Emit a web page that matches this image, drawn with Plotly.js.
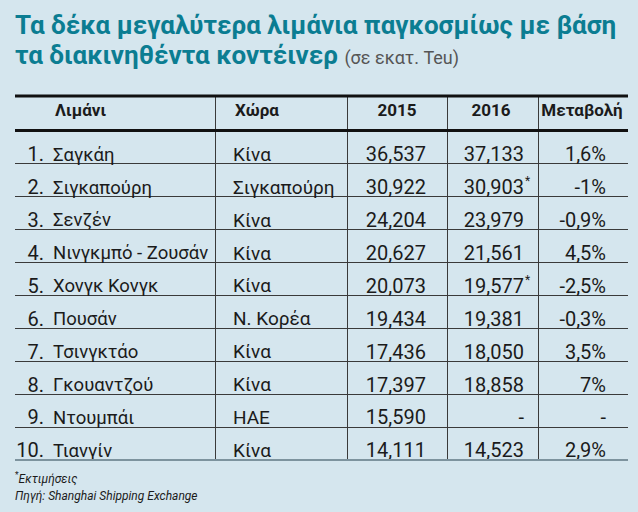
<!DOCTYPE html>
<html>
<head>
<meta charset="utf-8">
<script src="https://cdn.plot.ly/plotly-3.0.1.min.js"></script>
<style>
html,body{margin:0;padding:0;background:#d5e6ee;}
#chart{width:638px;height:512px;}
</style>
</head>
<body>
<div id="chart"></div>
<script>
// ---------- DATA ----------
const headers = ['Λιμάνι', 'Χώρα', '2015', '2016', 'Μεταβολή'];
const ports = ['Σαγκάη', 'Σιγκαπούρη', 'Σενζέν', 'Νινγκμπό - Ζουσάν', 'Χονγκ Κονγκ',
               'Πουσάν', 'Τσινγκτάο', 'Γκουαντζού', 'Ντουμπάι', 'Τιανγίν'];
const countries = ['Κίνα', 'Σιγκαπούρη', 'Κίνα', 'Κίνα', 'Κίνα',
                   'Ν. Κορέα', 'Κίνα', 'Κίνα', 'ΗΑΕ', 'Κίνα'];
const teu2015 = [36.537, 30.922, 24.204, 20.627, 20.073, 19.434, 17.436, 17.397, 15.590, 14.111];
const teu2016 = [37.133, 30.903, 23.979, 21.561, 19.577, 19.381, 18.050, 18.858, null, 14.523];
const estimated2016 = [false, true, false, false, true, false, false, false, false, false];
const changePct = [1.6, -1, -0.9, 4.5, -2.5, -0.3, 3.5, 7, null, 2.9];
const titleLine1 = 'Τα δέκα μεγαλύτερα λιμάνια παγκοσμίως με βάση';
const titleLine2 = 'τα διακινηθέντα κοντέινερ';
const titleUnit = '(σε εκατ. Teu)';
const noteText = 'Εκτιμήσεις';
const sourceText = 'Πηγή: Shanghai Shipping Exchange';

// ---------- LAYOUT CONSTANTS ----------
const W = 638, H = 512;
const BG = '#d5e6ee';
const TEAL = '#0b7d92';
const INK = '#1b1b1b';
const FONT = 'Roboto, "Liberation Sans", sans-serif';
const TOP = 96, BOTTOM = 460, LEFT = 15, RIGHT = 628;
const dividers = [215, 347, 447, 538];
const colAnchor = {rank: 44, port: 53, country: 233, y2015: 426, y2016: 524, change: 606};
const headAnchor = {port: 55, country: 235, y2015: 397, y2016: 491, change: 582};
const TEXT_DY = 0.27, HEAD_DY = -0.08;

// ---------- FORMATTERS ----------
const fmtTeu = v => v == null ? '-' : v.toFixed(3).replace('.', ',');
const fmtPct = v => v == null ? '-' : String(v).replace('.', ',') + '%';

const rowIdx = ports.map((_, i) => i + 1);
const rowY = rowIdx.map(i => i + TEXT_DY);
const numFont = {family: FONT, size: 20, color: INK};
const nameFont = {family: FONT, size: 18.5, color: INK};
const countryFont = {family: FONT, size: 19, color: INK};

function textTrace(x, y, text, pos, font) {
  return {type: 'scatter', mode: 'text', x: x, y: y, text: text,
          textposition: pos, textfont: font, hoverinfo: 'skip',
          cliponaxis: false, showlegend: false};
}
const rep = v => rowIdx.map(() => v);

const traces = [
  textTrace(rep(colAnchor.rank), rowY, rowIdx.map(i => i + '.'), 'middle left', numFont),
  textTrace(rep(colAnchor.port), rowY, ports, 'middle right', nameFont),
  textTrace(rep(colAnchor.country), rowY, countries, 'middle right', countryFont),
  textTrace(rep(colAnchor.y2015), rowY, teu2015.map(fmtTeu), 'middle left', numFont),
  textTrace(rep(colAnchor.y2016), rowY, teu2016.map(fmtTeu), 'middle left', numFont),
  textTrace(rep(colAnchor.y2016 + 1), rowY.map(y => y - 0.2), estimated2016.map(e => e ? '*' : ''),
            'middle right', {family: FONT, size: 12, color: INK}),
  textTrace(rep(colAnchor.change), rowY, changePct.map(fmtPct), 'middle left', numFont)
];

// header row (index 0)
const headFont = {family: FONT, size: 17, color: INK, weight: 700};
const hy = 0 + HEAD_DY;
traces.push(textTrace([headAnchor.port, headAnchor.country], [hy, hy], headers.slice(0, 2), 'middle right', headFont));
traces.push(textTrace([headAnchor.y2015, headAnchor.y2016, headAnchor.change], [hy, hy, hy], headers.slice(2), 'middle center', headFont));

// pixel -> paper (paper = plot area)
const px = p => (p - LEFT) / (RIGHT - LEFT);
const py = p => (BOTTOM - p) / (BOTTOM - TOP);

const layout = {
  width: W, height: H,
  paper_bgcolor: BG, plot_bgcolor: BG,
  margin: {l: LEFT, r: W - RIGHT, t: TOP, b: H - BOTTOM, pad: 0},
  showlegend: false,
  hovermode: false,
  xaxis: {range: [LEFT, RIGHT], fixedrange: true, showline: false, zeroline: false,
          tickmode: 'array', tickvals: dividers, showticklabels: false, ticks: '',
          showgrid: true, gridcolor: '#3a3a3a', gridwidth: 1},
  yaxis: {range: [10.5, -0.55], fixedrange: true, showline: false, zeroline: false,
          tickmode: 'array', tickvals: [1.5, 2.5, 3.5, 4.5, 5.5, 6.5, 7.5, 8.5, 9.5],
          showticklabels: false, ticks: '',
          showgrid: true, gridcolor: '#3a3a3a', gridwidth: 1},
  shapes: [
    {type: 'line', xref: 'paper', yref: 'paper', x0: 0, x1: 1, y0: 1, y1: 1,
     line: {color: '#111', width: 3}},
    {type: 'line', xref: 'paper', yref: 'y', x0: 0, x1: 1, y0: 0.5, y1: 0.5,
     line: {color: '#111', width: 3}},
    {type: 'line', xref: 'paper', yref: 'paper', x0: 0, x1: 1, y0: 0, y1: 0,
     line: {color: '#7d939e', width: 2}}
  ],
  annotations: [
    {xref: 'paper', yref: 'paper', x: px(13), y: py(25), xanchor: 'left', yanchor: 'middle',
     showarrow: false, text: '<b>' + titleLine1 + '</b>',
     font: {family: FONT, size: 26, color: TEAL}},
    {xref: 'paper', yref: 'paper', x: px(13), y: py(55), xanchor: 'left', yanchor: 'middle',
     showarrow: false,
     text: '<b>' + titleLine2 + '</b> <span style="font-size:18px;font-weight:normal;color:#555">' + titleUnit + '</span>',
     font: {family: FONT, size: 26, color: TEAL}},
    {xref: 'paper', yref: 'paper', x: px(13), y: py(478), xanchor: 'left', yanchor: 'middle',
     showarrow: false, text: '<sup>*</sup><i>' + noteText + '</i>',
     font: {family: FONT, size: 12, color: INK}},
    {xref: 'paper', yref: 'paper', x: px(13), y: py(496), xanchor: 'left', yanchor: 'middle',
     showarrow: false, text: '<i>' + sourceText + '</i>',
     font: {family: FONT, size: 12, color: INK}}
  ]
};

Plotly.newPlot('chart', traces, layout, {staticPlot: true, displayModeBar: false});
</script>
</body>
</html>
